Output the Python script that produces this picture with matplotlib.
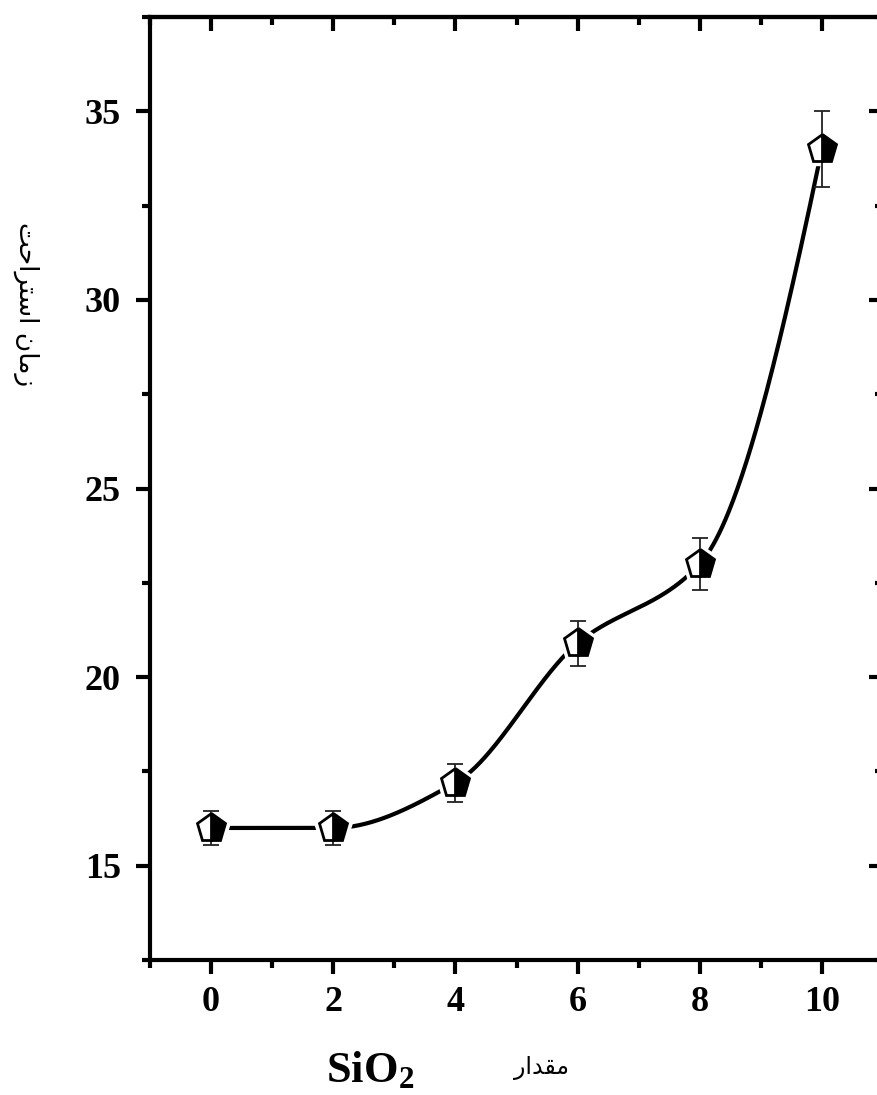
import numpy as np
import matplotlib
matplotlib.use("Agg")
import matplotlib.pyplot as plt
from matplotlib.ticker import MultipleLocator

# ---- data ----
sio2 = [0, 2, 4, 6, 8, 10]
rest_time = [16.0, 16.0, 17.2, 20.9, 23.0, 34.0]
err = [0.45, 0.45, 0.5, 0.6, 0.7, 1.0]
x_ticks = [0, 2, 4, 6, 8, 10]
y_ticks = [15, 20, 25, 30, 35]

# Persian labels in visual order with presentation forms
xlabel_fa = "\uFEAD\uFE8D\uFEAA\uFED8\uFEE3"          # مقدار
ylabel_fa = ("\uFE96\uFEA3\uFE8D\uFEAE\uFE98\uFEB3\uFE8D" + " " +
             "\uFEE5\uFE8E\uFEE3\uFEAF")                # زمان استراحت


def pchip(x, y, xs):
    x = np.asarray(x, float); y = np.asarray(y, float)
    h = np.diff(x); delta = np.diff(y) / h
    n = len(x); d = np.zeros(n)
    for k in range(1, n - 1):
        if delta[k - 1] * delta[k] > 0:
            w1 = 2 * h[k] + h[k - 1]; w2 = h[k] + 2 * h[k - 1]
            d[k] = (w1 + w2) / (w1 / delta[k - 1] + w2 / delta[k])
    def end(h0, h1, d0, d1):
        dd = ((2 * h0 + h1) * d0 - h0 * d1) / (h0 + h1)
        if np.sign(dd) != np.sign(d0):
            dd = 0
        elif np.sign(d0) != np.sign(d1) and abs(dd) > abs(3 * d0):
            dd = 3 * d0
        return dd
    d[0] = end(h[0], h[1], delta[0], delta[1])
    d[-1] = end(h[-1], h[-2], delta[-1], delta[-2])
    out = np.empty_like(xs)
    for i, xv in enumerate(xs):
        k = min(max(np.searchsorted(x, xv) - 1, 0), n - 2)
        t = (xv - x[k]) / h[k]
        h00 = 2 * t**3 - 3 * t**2 + 1; h10 = t**3 - 2 * t**2 + t
        h01 = -2 * t**3 + 3 * t**2; h11 = t**3 - t**2
        out[i] = h00 * y[k] + h10 * h[k] * d[k] + h01 * y[k + 1] + h11 * h[k] * d[k + 1]
    return out


plt.rcParams['mathtext.fontset'] = 'custom'
plt.rcParams['mathtext.rm'] = 'Liberation Serif:bold'
plt.rcParams['mathtext.bf'] = 'Liberation Serif:bold'

fig = plt.figure(figsize=(8.77, 10.95), dpi=100)
ax = fig.add_axes([150 / 877, 1 - 960 / 1095, 733 / 877, (960 - 17) / 1095])

xs = np.linspace(sio2[0], sio2[-1], 400)
ax.plot(xs, pchip(sio2, rest_time, xs), color='black', lw=3, zorder=2)
# white halo so the line stops short of the markers
ax.plot(sio2, rest_time, ls='none', marker='p', ms=29, mfc='white', mec='white', zorder=3)
ax.errorbar(sio2, rest_time, yerr=err, fmt='none', ecolor='#222222', elinewidth=1.3,
            capsize=6, capthick=1.3, zorder=4)
ax.plot(sio2, rest_time, ls='none', marker='p', ms=21, fillstyle='right',
        mfc='black', mfcalt='white', mec='black', mew=2, zorder=5)

ax.set_xlim(-1, 11)
ax.set_ylim(12.5, 37.5)
ax.set_xticks(x_ticks)
ax.set_yticks(y_ticks)
ax.xaxis.set_minor_locator(MultipleLocator(1))
ax.yaxis.set_minor_locator(MultipleLocator(2.5))
for s in ax.spines.values():
    s.set_linewidth(3)
ax.tick_params(which='major', direction='out', length=10, width=3, labelsize=26)
ax.tick_params(which='minor', direction='out', length=5.5, width=3)
ax.tick_params(axis='x', pad=9)
ax.tick_params(axis='y', pad=11)
for lab in ax.get_xticklabels() + ax.get_yticklabels():
    lab.set_fontfamily('Liberation Serif')
    lab.set_fontweight('bold')

top = ax.secondary_xaxis('top')
top.set_xticks(x_ticks)
top.xaxis.set_minor_locator(MultipleLocator(1))
top.tick_params(which='major', direction='in', length=10, width=3, labeltop=False)
top.tick_params(which='minor', direction='in', length=5.5, width=3)
top.spines['top'].set_linewidth(3)

right = ax.secondary_yaxis('right')
right.set_yticks(y_ticks)
right.yaxis.set_minor_locator(MultipleLocator(2.5))
right.tick_params(which='major', direction='in', length=10, width=3, labelright=False)
right.tick_params(which='minor', direction='in', length=5.5, width=3)
right.spines['right'].set_linewidth(3)

fig.text(0.422, 0.012, r'$\mathbf{SiO_2}$', fontsize=32, ha='center', va='baseline')
fig.text(0.618, 0.025, xlabel_fa, fontsize=17, family='DejaVu Sans', ha='center', va='center')
fig.text(0.030, 0.722, ylabel_fa, fontsize=19, family='DejaVu Sans', rotation=270,
         ha='center', va='center')

fig.savefig('out.png', dpi=100)
